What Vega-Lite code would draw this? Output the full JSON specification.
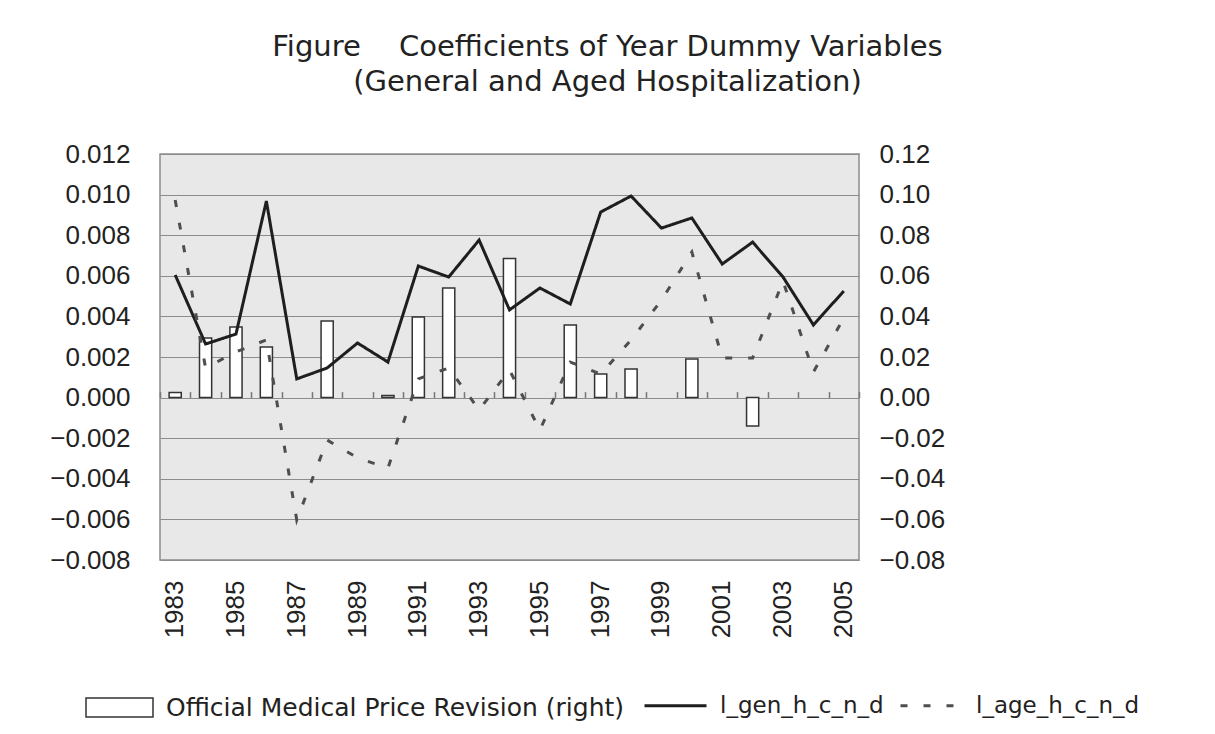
{
  "$schema": "https://vega.github.io/schema/vega-lite/v6.json",
  "width": 699,
  "height": 406,
  "autosize": {"type": "none"},
  "padding": {"left": 160, "top": 154, "right": 356, "bottom": 174},
  "background": "white",
  "title": {
    "text": ["Figure\u3000  Coefficients of Year Dummy Variables", "(General and Aged Hospitalization)"],
    "font": "DejaVu Sans",
    "fontSize": 29,
    "fontWeight": "normal",
    "color": "#222222",
    "anchor": "middle",
    "dx": 98,
    "offset": 44,
    "lineHeight": 35
  },
  "datasets": {
    "bars": [
      {"year": 1983, "revision": 0.0025},
      {"year": 1984, "revision": 0.0294},
      {"year": 1985, "revision": 0.0348},
      {"year": 1986, "revision": 0.0249},
      {"year": 1988, "revision": 0.0377},
      {"year": 1990, "revision": 0.001},
      {"year": 1991, "revision": 0.0397},
      {"year": 1992, "revision": 0.054},
      {"year": 1994, "revision": 0.0685},
      {"year": 1996, "revision": 0.0358},
      {"year": 1997, "revision": 0.0116},
      {"year": 1998, "revision": 0.0141},
      {"year": 2000, "revision": 0.019},
      {"year": 2002, "revision": -0.014}
    ],
    "lines": [
      {"year": 1983, "series": "l_gen_h_c_n_d", "value": 0.00604},
      {"year": 1984, "series": "l_gen_h_c_n_d", "value": 0.00264},
      {"year": 1985, "series": "l_gen_h_c_n_d", "value": 0.00313},
      {"year": 1986, "series": "l_gen_h_c_n_d", "value": 0.00968},
      {"year": 1987, "series": "l_gen_h_c_n_d", "value": 0.00092},
      {"year": 1988, "series": "l_gen_h_c_n_d", "value": 0.00146},
      {"year": 1989, "series": "l_gen_h_c_n_d", "value": 0.00269},
      {"year": 1990, "series": "l_gen_h_c_n_d", "value": 0.00175},
      {"year": 1991, "series": "l_gen_h_c_n_d", "value": 0.00648},
      {"year": 1992, "series": "l_gen_h_c_n_d", "value": 0.00594},
      {"year": 1993, "series": "l_gen_h_c_n_d", "value": 0.00776},
      {"year": 1994, "series": "l_gen_h_c_n_d", "value": 0.00432},
      {"year": 1995, "series": "l_gen_h_c_n_d", "value": 0.0054},
      {"year": 1996, "series": "l_gen_h_c_n_d", "value": 0.00461},
      {"year": 1997, "series": "l_gen_h_c_n_d", "value": 0.00914},
      {"year": 1998, "series": "l_gen_h_c_n_d", "value": 0.00993},
      {"year": 1999, "series": "l_gen_h_c_n_d", "value": 0.00835},
      {"year": 2000, "series": "l_gen_h_c_n_d", "value": 0.00885},
      {"year": 2001, "series": "l_gen_h_c_n_d", "value": 0.00658},
      {"year": 2002, "series": "l_gen_h_c_n_d", "value": 0.00766},
      {"year": 2003, "series": "l_gen_h_c_n_d", "value": 0.00594},
      {"year": 2004, "series": "l_gen_h_c_n_d", "value": 0.00358},
      {"year": 2005, "series": "l_gen_h_c_n_d", "value": 0.00525},
      {"year": 1983, "series": "l_age_h_c_n_d", "value": 0.00973},
      {"year": 1984, "series": "l_age_h_c_n_d", "value": 0.00146},
      {"year": 1985, "series": "l_age_h_c_n_d", "value": 0.00225},
      {"year": 1986, "series": "l_age_h_c_n_d", "value": 0.00284},
      {"year": 1987, "series": "l_age_h_c_n_d", "value": -0.00603},
      {"year": 1988, "series": "l_age_h_c_n_d", "value": -0.00209},
      {"year": 1989, "series": "l_age_h_c_n_d", "value": -0.00297},
      {"year": 1990, "series": "l_age_h_c_n_d", "value": -0.00347},
      {"year": 1991, "series": "l_age_h_c_n_d", "value": 0.00092},
      {"year": 1992, "series": "l_age_h_c_n_d", "value": 0.00146},
      {"year": 1993, "series": "l_age_h_c_n_d", "value": -0.00061},
      {"year": 1994, "series": "l_age_h_c_n_d", "value": 0.00136},
      {"year": 1995, "series": "l_age_h_c_n_d", "value": -0.0016},
      {"year": 1996, "series": "l_age_h_c_n_d", "value": 0.00175},
      {"year": 1997, "series": "l_age_h_c_n_d", "value": 0.00116},
      {"year": 1998, "series": "l_age_h_c_n_d", "value": 0.00284},
      {"year": 1999, "series": "l_age_h_c_n_d", "value": 0.0048},
      {"year": 2000, "series": "l_age_h_c_n_d", "value": 0.00717},
      {"year": 2001, "series": "l_age_h_c_n_d", "value": 0.00195},
      {"year": 2002, "series": "l_age_h_c_n_d", "value": 0.00195},
      {"year": 2003, "series": "l_age_h_c_n_d", "value": 0.00574},
      {"year": 2004, "series": "l_age_h_c_n_d", "value": 0.00126},
      {"year": 2005, "series": "l_age_h_c_n_d", "value": 0.00392}
    ]
  },
  "config": {
    "view": {"fill": "#e8e8e8", "stroke": "#8c8c8c", "strokeWidth": 1.5},
    "axis": {"labelFont": "Liberation Sans", "labelFontSize": 26, "labelColor": "#222222"},
    "legend": {"labelFont": "DejaVu Sans", "labelFontSize": 25, "labelColor": "#222222", "labelLimit": 0}
  },
  "layer": [
    {
      "data": {"name": "bars"},
      "mark": {"type": "bar", "width": {"band": 0.4}, "stroke": "#333333", "strokeWidth": 1.5},
      "encoding": {
        "x": {
          "field": "year", "type": "ordinal",
          "scale": {"domain": [1983,1984,1985,1986,1987,1988,1989,1990,1991,1992,1993,1994,1995,1996,1997,1998,1999,2000,2001,2002,2003,2004,2005], "paddingInner": 0, "paddingOuter": 0},
          "axis": {"orient": "top", "offset": -243.6, "labels": false, "domain": false, "ticks": true, "tickBand": "extent", "tickSize": 6, "tickColor": "#777777", "tickWidth": 1.5, "grid": false, "title": null}
        },
        "y": {
          "field": "revision", "type": "quantitative",
          "scale": {"domain": [-0.08, 0.12], "nice": false, "zero": false},
          "axis": {"orient": "right", "values": [-0.08,-0.06,-0.04,-0.02,0,0.02,0.04,0.06,0.08,0.1,0.12], "format": ".2f", "grid": false, "ticks": false, "domain": false, "labelPadding": 20, "title": null}
        },
        "fill": {
          "datum": "Official Medical Price Revision (right)", "type": "nominal",
          "scale": {"range": ["#ffffff"]},
          "legend": {"orient": "none", "legendX": -75, "legendY": 519, "title": null, "symbolType": "M-1,-0.28H1V0.28H-1Z", "symbolSize": 4489, "symbolStrokeColor": "#333333", "symbolStrokeWidth": 1.5, "labelOffset": 12, "labelLimit": 0, "labelFontSize": 25}
        }
      }
    },
    {
      "data": {"name": "lines"},
      "mark": {"type": "line", "strokeWidth": 3},
      "encoding": {
        "x": {
          "field": "year", "type": "ordinal",
          "scale": {"domain": [1983,1984,1985,1986,1987,1988,1989,1990,1991,1992,1993,1994,1995,1996,1997,1998,1999,2000,2001,2002,2003,2004,2005], "paddingInner": 0, "paddingOuter": 0},
          "axis": {"orient": "bottom", "values": [1983,1985,1987,1989,1991,1993,1995,1997,1999,2001,2003,2005], "labelAngle": -90, "labelPadding": 20, "ticks": false, "domain": false, "grid": false, "title": null}
        },
        "y": {
          "field": "value", "type": "quantitative",
          "scale": {"domain": [-0.008, 0.012], "nice": false, "zero": false},
          "axis": {"orient": "left", "values": [-0.008,-0.006,-0.004,-0.002,0,0.002,0.004,0.006,0.008,0.01,0.012], "format": ".3f", "grid": true, "gridColor": "#8c8c8c", "gridWidth": 1.2, "ticks": false, "domain": false, "labelPadding": 30, "title": null}
        },
        "color": {
          "field": "series", "type": "nominal",
          "scale": {"domain": ["l_gen_h_c_n_d", "l_age_h_c_n_d"], "range": ["#1e1e1e", "#4e4e4e"]},
          "legend": {"orient": "none", "legendX": 483, "legendY": 519, "direction": "horizontal", "title": null, "symbolType": "stroke", "symbolSize": 3844, "symbolStrokeWidth": 3, "labelOffset": 12, "columnPadding": 10, "labelLimit": 0, "labelFontSize": 23}
        },
        "strokeDash": {
          "field": "series", "type": "nominal",
          "scale": {"domain": ["l_gen_h_c_n_d", "l_age_h_c_n_d"], "range": [[1, 0], [7, 16]]},
          "legend": {"orient": "none", "legendX": 483, "legendY": 519, "direction": "horizontal", "title": null, "symbolType": "stroke", "symbolSize": 3844, "symbolStrokeWidth": 3, "labelOffset": 12, "columnPadding": 10, "labelLimit": 0, "labelFontSize": 23}
        }
      }
    }
  ],
  "resolve": {"scale": {"y": "independent"}, "axis": {"x": "independent", "y": "independent"}}
}
